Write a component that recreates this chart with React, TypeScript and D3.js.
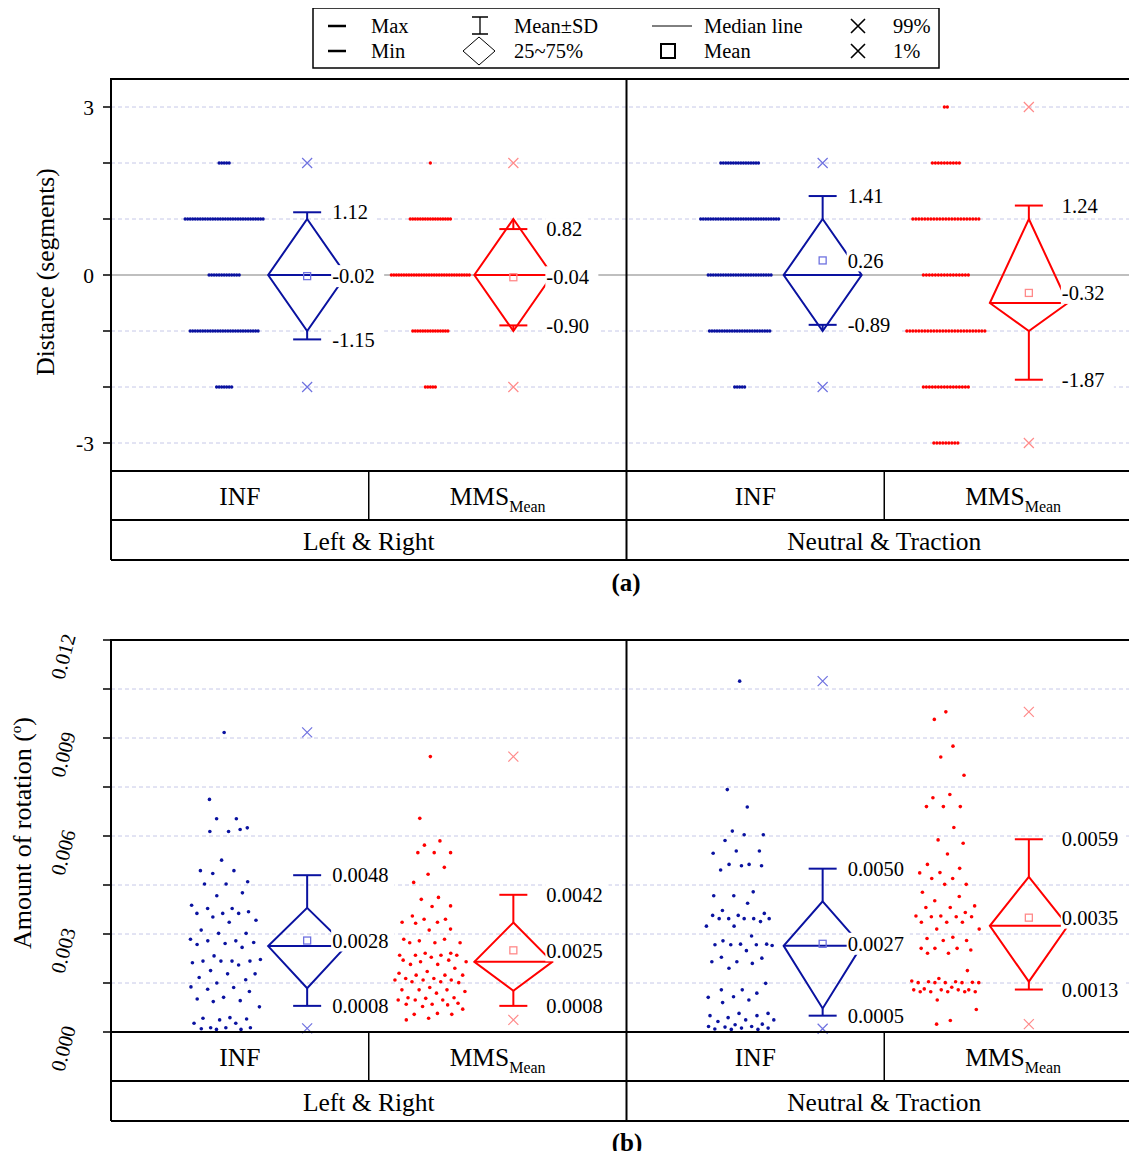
import React from 'react';
import * as d3 from 'd3';

// categories
const conditions = ['Left & Right', 'Neutral & Traction'];
const groups = ['INF', 'MMS'];

// panel (a): distance levels and number of subjects stacked at each level
const distLevels = [3, 2, 1, 0, -1, -2, -3];
const distCountsLrInf = [0, 5, 32, 13, 28, 7, 0];
const distCountsLrMms = [0, 1, 17, 32, 15, 5, 0];
const distCountsNtInf = [0, 16, 32, 26, 25, 5, 0];
const distCountsNtMms = [2, 10, 23, 16, 27, 16, 9];

// panel (a) summary per cell (LR INF, LR MMS, NT INF, NT MMS)
const distUpper = [1.12, 0.82, 1.41, 1.24];
const distMean = [-0.02, -0.04, 0.26, -0.32];
const distLower = [-1.15, -0.9, -0.89, -1.87];
const distQ3 = [1, 1, 1, 1];
const distMedian = [0, 0, 0, -0.5];
const distQ1 = [-1, -1, -1, -1];
const distP99 = [2, 2, 2, 3];
const distP1 = [-2, -2, -2, -3];
const distTicks = [3, 2, 1, 0, -1, -2, -3];
const distTickLabels = [3, 0, -3];

// panel (b): amount of rotation per subject
const rotLrInf = [0.00917, 0.00712, 0.00653, 0.00653, 0.00625, 0.00614, 0.00614, 0.0062, 0.00526, 0.00494, 0.00494, 0.00485, 0.0046, 0.00453, 0.00453, 0.00426, 0.00417, 0.00388, 0.00378, 0.00378, 0.00368, 0.00363, 0.00363, 0.00363, 0.00352, 0.00342, 0.00336, 0.00312, 0.00302, 0.00302, 0.00284, 0.00279, 0.00279, 0.00274, 0.00271, 0.00268, 0.00259, 0.00233, 0.00222, 0.00217, 0.00217, 0.00217, 0.00217, 0.00212, 0.00205, 0.00188, 0.00178, 0.00178, 0.00167, 0.0016, 0.0015, 0.00138, 0.00136, 0.00131, 0.00124, 0.00106, 0.00101, 0.00096, 0.00093, 0.00077, 0.00044, 0.00042, 0.0004, 0.00037, 0.00027, 0.00027, 0.00013, 0.00013, 0.00013, 0.0001, 0.00008, 0.00008];
const rotLrMms = [0.00843, 0.00654, 0.00585, 0.00572, 0.00549, 0.00549, 0.00549, 0.00504, 0.00483, 0.00458, 0.00412, 0.00406, 0.00386, 0.00384, 0.00355, 0.00345, 0.00345, 0.00336, 0.00336, 0.00333, 0.00315, 0.00312, 0.00284, 0.00284, 0.00279, 0.00273, 0.00273, 0.00273, 0.00241, 0.00241, 0.00235, 0.00235, 0.00235, 0.00235, 0.00229, 0.0022, 0.0022, 0.00215, 0.00215, 0.00207, 0.00207, 0.00195, 0.00185, 0.0018, 0.00174, 0.00174, 0.00174, 0.00164, 0.00164, 0.00159, 0.00159, 0.00159, 0.00154, 0.00154, 0.00151, 0.00136, 0.00129, 0.00129, 0.00129, 0.00124, 0.00119, 0.00105, 0.00105, 0.00103, 0.00098, 0.00098, 0.00098, 0.00088, 0.00085, 0.00085, 0.00083, 0.00078, 0.0007, 0.00057, 0.00054, 0.00054, 0.00042, 0.00037];
const rotNtInf = [0.01074, 0.00742, 0.00689, 0.00615, 0.00604, 0.00604, 0.00586, 0.00554, 0.00554, 0.00547, 0.00513, 0.00513, 0.00509, 0.00509, 0.00496, 0.00429, 0.00417, 0.00417, 0.00394, 0.00372, 0.00363, 0.00357, 0.00357, 0.00347, 0.00347, 0.00347, 0.00347, 0.00347, 0.00338, 0.00324, 0.00324, 0.00294, 0.00279, 0.00269, 0.00269, 0.00267, 0.00267, 0.00267, 0.00265, 0.00249, 0.00229, 0.00226, 0.00215, 0.00215, 0.0021, 0.00195, 0.00149, 0.00129, 0.00129, 0.00119, 0.00108, 0.00106, 0.00098, 0.0009, 0.00057, 0.00057, 0.0005, 0.0005, 0.00044, 0.00037, 0.00037, 0.00032, 0.00024, 0.00022, 0.00017, 0.00017, 0.00015, 0.00012, 0.00012, 0.00009, 0.00008, 0.00008];
const rotNtMms = [0.0098, 0.00957, 0.00875, 0.00842, 0.00786, 0.00727, 0.00717, 0.0069, 0.0069, 0.0069, 0.00626, 0.00588, 0.00578, 0.00545, 0.00513, 0.00501, 0.00488, 0.00487, 0.0047, 0.0047, 0.00452, 0.00452, 0.00428, 0.00415, 0.00402, 0.00386, 0.00381, 0.00381, 0.00366, 0.00355, 0.00355, 0.00353, 0.00353, 0.00353, 0.00336, 0.00336, 0.00336, 0.00315, 0.00315, 0.0029, 0.00286, 0.0028, 0.0028, 0.00256, 0.00256, 0.00256, 0.00251, 0.00241, 0.00241, 0.00188, 0.00164, 0.00156, 0.00154, 0.00154, 0.00152, 0.00151, 0.00151, 0.00151, 0.00151, 0.00151, 0.00137, 0.00132, 0.00129, 0.00129, 0.00129, 0.00129, 0.00123, 0.00123, 0.00123, 0.00123, 0.00123, 0.00098, 0.00069, 0.00035, 0.00024];

const rotUpper = [0.0048, 0.0042, 0.005, 0.0059];
const rotMean = [0.0028, 0.0025, 0.0027, 0.0035];
const rotLower = [0.0008, 0.0008, 0.0005, 0.0013];
const rotQ3 = [0.0038, 0.00335, 0.004, 0.00475];
const rotMedian = [0.00263, 0.00215, 0.00264, 0.00325];
const rotQ1 = [0.00134, 0.00126, 0.00072, 0.00154];
const rotP99 = [0.00917, 0.00843, 0.01074, 0.0098];
const rotP1 = [0.00011, 0.00037, 0.0001, 0.00024];
const rotTicks = [0.012, 0.0105, 0.009, 0.0075, 0.006, 0.0045, 0.003, 0.0015, 0];
const rotTickLabels = ['0.012', '0.009', '0.006', '0.003', '0.000'];

const FONT = "'Liberation Serif', 'Times New Roman', serif";
const W = 1137;
const H = 1159;
const X0 = 111;
const X1 = 1142;
const BLUE = '#0a12a0';
const RED = '#ff0000';
const LIGHT = ['#6f72e0', '#ff8a8a'];
const GRID = '#c6c8e8';

const condScale = d3.scaleBand<string>().domain(conditions).range([X0, X1]);
const cells = conditions.flatMap((c) => groups.map((g) => ({ c, g })));
const cellCenter = (c: string, g: string) =>
  d3
    .scalePoint<string>()
    .domain(groups)
    .range([condScale(c)!, condScale(c)! + condScale.bandwidth()])
    .padding(0.75)(g)!;
const STRIP_DX = -41.5;
const BOX_DX = 41.5;

// spread points sideways: width follows local density, order is a golden-ratio sequence
function spread(values: number[], half: number, win: number) {
  const dens = values.map((v) => values.filter((u) => Math.abs(u - v) <= win).length);
  const maxD = d3.max(dens)!;
  return values.map((_, i) => {
    const t = ((i * 0.6180339887 + 0.5) % 1) - 0.5;
    return t * 2 * half * Math.pow(dens[i] / maxD, 0.35);
  });
}

type Summary = {
  upper: number[]; mean: number[]; lower: number[];
  q3: number[]; median: number[]; q1: number[];
  p99: number[]; p1: number[];
};

const Boxes = ({ y, s, digits }: { y: d3.ScaleLinear<number, number>; s: Summary; digits: number }) => (
  <g>
    {cells.map(({ c, g }, i) => {
      const cx = cellCenter(c, g) + BOX_DX;
      const col = g === 'INF' ? BLUE : RED;
      const light = LIGHT[g === 'INF' ? 0 : 1];
      const hw = 39;
      const cap = 14;
      const lx = cx + (g === 'INF' ? 25 : 33);
      const ym = y(s.median[i]);
      const labels = [s.upper[i], s.mean[i], s.lower[i]];
      return (
        <g key={i}>
          <path
            d={`M${cx},${y(s.q3[i])}L${cx + hw},${ym}L${cx},${y(s.q1[i])}L${cx - hw},${ym}Z`}
            fill="none" stroke={col} strokeWidth={2} />
          <line x1={cx - hw} x2={cx + hw} y1={ym} y2={ym} stroke={col} strokeWidth={2} />
          <line x1={cx} x2={cx} y1={y(s.q3[i])} y2={y(s.upper[i])} stroke={col} strokeWidth={2} />
          <line x1={cx} x2={cx} y1={y(s.q1[i])} y2={y(s.lower[i])} stroke={col} strokeWidth={2} />
          <line x1={cx - cap} x2={cx + cap} y1={y(s.upper[i])} y2={y(s.upper[i])} stroke={col} strokeWidth={2} />
          <line x1={cx - cap} x2={cx + cap} y1={y(s.lower[i])} y2={y(s.lower[i])} stroke={col} strokeWidth={2} />
          <rect x={cx - 3.5} y={y(s.mean[i]) - 3.5} width={7} height={7} fill="none" stroke={light} strokeWidth={1.3} />
          {[s.p99[i], s.p1[i]].map((v, k) => (
            <path key={k}
              d={`M${cx - 5},${y(v) - 5}L${cx + 5},${y(v) + 5}M${cx - 5},${y(v) + 5}L${cx + 5},${y(v) - 5}`}
              stroke={light} strokeWidth={1.2} />
          ))}
          {labels.map((v, k) => {
            const txt = v.toFixed(digits);
            const tw = txt.length * 10.2;
            return (
              <g key={k}>
                <rect x={lx - 1} y={y(v) - 11} width={tw + 2} height={22} fill="#fff" />
                <text x={lx} y={y(v)} dy="0.35em" fontSize={20.5} fontFamily={FONT} fill="#000">{txt}</text>
              </g>
            );
          })}
        </g>
      );
    })}
  </g>
);

const CategoryTable = ({ top }: { top: number }) => {
  const r1 = top + 49;
  const r2 = top + 89;
  return (
    <g fontFamily={FONT} fill="#000">
      <line x1={X0} x2={X1} y1={r1} y2={r1} stroke="#000" strokeWidth={2} />
      <line x1={X0} x2={X1} y1={r2} y2={r2} stroke="#000" strokeWidth={2} />
      <line x1={X0} x2={X0} y1={top} y2={r2} stroke="#000" strokeWidth={2} />
      {conditions.map((c) => (
        <g key={c}>
          <line x1={condScale(c)! + condScale.bandwidth()} x2={condScale(c)! + condScale.bandwidth()} y1={top} y2={r2} stroke="#000" strokeWidth={2} />
          <line x1={condScale(c)! + condScale.bandwidth() / 2} x2={condScale(c)! + condScale.bandwidth() / 2} y1={top} y2={r1} stroke="#000" strokeWidth={1.5} />
          <text x={condScale(c)! + condScale.bandwidth() / 2} y={r1 + 21} dy="0.35em" textAnchor="middle" fontSize={25.5}>{c}</text>
          {groups.map((g, k) => (
            <text key={g} x={condScale(c)! + condScale.bandwidth() * (k + 0.5) / 2} y={top + 25} dy="0.35em" textAnchor="middle" fontSize={25.5}>
              {g}
              {g === 'MMS' && <tspan fontSize={16} dy={7}>Mean</tspan>}
            </text>
          ))}
        </g>
      ))}
    </g>
  );
};

const Frame = ({ top, bottom }: { top: number; bottom: number }) => (
  <g fill="none" stroke="#000" strokeWidth={2}>
    <rect x={X0} y={top} width={X1 - X0} height={bottom - top} />
    <line x1={condScale(conditions[1])!} x2={condScale(conditions[1])!} y1={top} y2={bottom} />
  </g>
);

const App = () => {
  // panel (a)
  const yA = d3.scaleLinear().domain([-3.5, 3.5]).range([471, 79]);
  const distCounts = [distCountsLrInf, distCountsLrMms, distCountsNtInf, distCountsNtMms];
  const distSummary: Summary = {
    upper: distUpper, mean: distMean, lower: distLower, q3: distQ3,
    median: distMedian, q1: distQ1, p99: distP99, p1: distP1,
  };

  // panel (b)
  const yB = d3.scaleLinear().domain([0, 0.012]).range([1032, 640]);
  const rotValues = [rotLrInf, rotLrMms, rotNtInf, rotNtMms];
  const rotSummary: Summary = {
    upper: rotUpper, mean: rotMean, lower: rotLower, q3: rotQ3,
    median: rotMedian, q1: rotQ1, p99: rotP99, p1: rotP1,
  };

  return (
    <svg width={W} height={H} style={{ display: 'block', margin: -8, background: '#fff' }} fontFamily={FONT}>
      {/* legend */}
      <g fontSize={20.5} fill="#000">
        <rect x={313} y={8} width={626} height={60} fill="none" stroke="#000" strokeWidth={1.5} />
        <line x1={328} x2={346} y1={26} y2={26} stroke="#000" strokeWidth={2.5} />
        <text x={371} y={26} dy="0.35em">Max</text>
        <line x1={328} x2={346} y1={51} y2={51} stroke="#000" strokeWidth={2.5} />
        <text x={371} y={51} dy="0.35em">Min</text>
        <path d="M472,17H488M480,17V34M472,34H488" stroke="#000" strokeWidth={1.3} fill="none" />
        <text x={514} y={26} dy="0.35em">Mean±SD</text>
        <path d="M479,37L495,51L479,65L463,51Z" stroke="#000" strokeWidth={1} fill="none" />
        <text x={514} y={51} dy="0.35em">25~75%</text>
        <line x1={652} x2={692} y1={26} y2={26} stroke="#000" strokeWidth={1} />
        <text x={704} y={26} dy="0.35em">Median line</text>
        <rect x={661} y={44} width={14} height={14} fill="none" stroke="#000" strokeWidth={2} />
        <text x={704} y={51} dy="0.35em">Mean</text>
        <path d="M851,19L865,33M851,33L865,19M851,44L865,58M851,58L865,44" stroke="#000" strokeWidth={1.6} />
        <text x={893} y={26} dy="0.35em">99%</text>
        <text x={893} y={51} dy="0.35em">1%</text>
      </g>

      {/* ---------- panel (a) ---------- */}
      <g>
        {distTicks.map((t) => (
          <line key={t} x1={X0} x2={X1} y1={yA(t)} y2={yA(t)}
            stroke={t === 0 ? '#808080' : GRID} strokeWidth={t === 0 ? 1.2 : 1} strokeDasharray={t === 0 ? undefined : '4 3'} />
        ))}
        {distCounts.map((counts, i) => {
          const { c, g } = cells[i];
          const cx = cellCenter(c, g) + STRIP_DX;
          const step = 78 / (d3.max(counts)! - 1);
          return (
            <g key={i} fill={g === 'INF' ? BLUE : RED}>
              {counts.flatMap((n, li) =>
                d3.range(n).map((k) => (
                  <circle key={`${li}-${k}`} cx={cx + (k - (n - 1) / 2) * step} cy={yA(distLevels[li])} r={1.65} />
                ))
              )}
            </g>
          );
        })}
        <Boxes y={yA} s={distSummary} digits={2} />
        <Frame top={79} bottom={471} />
        {distTicks.map((t) => (
          <line key={t} x1={X0 - 8} x2={X0} y1={yA(t)} y2={yA(t)} stroke="#000" strokeWidth={1.5} />
        ))}
        {distTickLabels.map((t) => (
          <text key={t} x={94} y={yA(t)} dy="0.35em" textAnchor="end" fontSize={21.5}>{t}</text>
        ))}
        <text transform="translate(45,272) rotate(-90)" textAnchor="middle" dy="0.35em" fontSize={25.5}>Distance (segments)</text>
        <CategoryTable top={471} />
        <text x={626} y={582} dy="0.35em" textAnchor="middle" fontSize={25} fontWeight="bold">(a)</text>
      </g>

      {/* ---------- panel (b) ---------- */}
      <g>
        {rotTicks.filter((t) => t > 0).map((t) => (
          <line key={t} x1={X0} x2={X1} y1={yB(t)} y2={yB(t)} stroke={GRID} strokeWidth={1} strokeDasharray="4 3" />
        ))}
        {rotValues.map((vals, i) => {
          const { c, g } = cells[i];
          const cx = cellCenter(c, g) + STRIP_DX;
          const dx = spread(vals, 38, 0.0007);
          return (
            <g key={i} fill={g === 'INF' ? BLUE : RED}>
              {vals.map((v, k) => (
                <circle key={k} cx={cx + dx[k]} cy={yB(v)} r={1.8} />
              ))}
            </g>
          );
        })}
        <Boxes y={yB} s={rotSummary} digits={4} />
        <Frame top={640} bottom={1032} />
        {rotTicks.map((t) => (
          <line key={t} x1={X0 - 8} x2={X0} y1={yB(t)} y2={yB(t)} stroke="#000" strokeWidth={1.5} />
        ))}
        {rotTickLabels.map((t) => (
          <text key={t} transform={`translate(76,${yB(+t) - 4}) rotate(-75)`} textAnchor="end" fontSize={20.5}>{t}</text>
        ))}
        <text transform="translate(22,833) rotate(-90)" textAnchor="middle" dy="0.35em" fontSize={26}>
          Amount of rotation (<tspan fontSize={15} dy={-10}>o</tspan><tspan dy={10}>)</tspan>
        </text>
        <CategoryTable top={1032} />
        <text x={627} y={1142} dy="0.35em" textAnchor="middle" fontSize={25} fontWeight="bold">(b)</text>
      </g>
    </svg>
  );
};

export default App;
